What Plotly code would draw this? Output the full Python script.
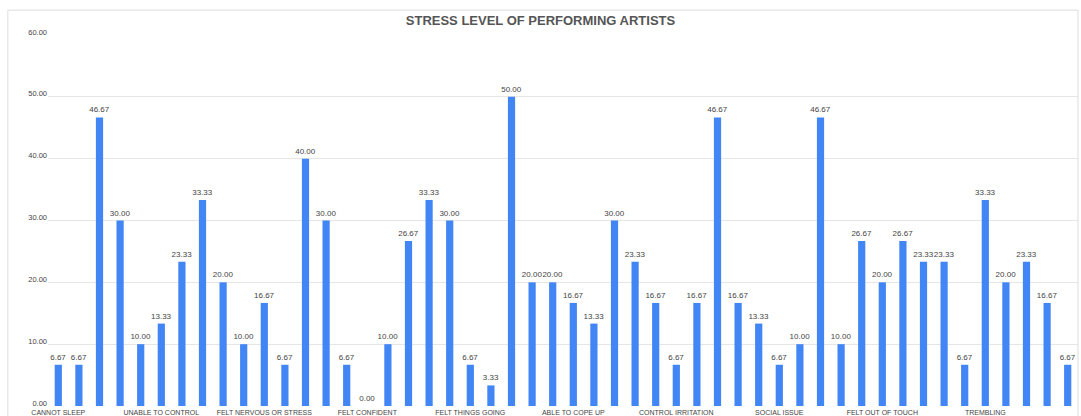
import plotly.graph_objects as go

values = [6.67, 6.67, 46.67, 30.00, 10.00, 13.33, 23.33, 33.33, 20.00, 10.00,
          16.67, 6.67, 40.00, 30.00, 6.67, 0.00, 10.00, 26.67, 33.33, 30.00,
          6.67, 3.33, 50.00, 20.00, 20.00, 16.67, 13.33, 30.00, 23.33, 16.67,
          6.67, 16.67, 46.67, 16.67, 13.33, 6.67, 10.00, 46.67, 10.00, 26.67,
          20.00, 26.67, 23.33, 23.33, 6.67, 33.33, 20.00, 23.33, 16.67, 6.67]
positions = list(range(1, len(values) + 1))
tick_labels = ["CANNOT SLEEP", "UNABLE TO CONTROL", "FELT NERVOUS OR STRESS",
               "FELT CONFIDENT", "FELT THINGS GOING", "ABLE TO COPE UP",
               "CONTROL IRRITATION", "SOCIAL ISSUE", "FELT OUT OF TOUCH",
               "TREMBLING"]
tick_positions = positions[::5]
y_ticks = [0, 10, 20, 30, 40, 50, 60]

fig = go.Figure()
fig.add_trace(go.Bar(
    x=positions, y=values,
    marker=dict(color="#4285F4", line=dict(width=0)),
    text=[f"{v:.2f}" for v in values],
    textposition="outside",
    constraintext="none",
    textfont=dict(size=8, color="#444444", family="Liberation Sans"),
    cliponaxis=False,
))
fig.update_layout(
    width=1081, height=416,
    margin=dict(l=48, r=3, t=35, b=10, autoexpand=False),
    paper_bgcolor="white", plot_bgcolor="white",
    bargap=0.65,
    showlegend=False,
    font=dict(family="Liberation Sans", size=8, color="#444444"),
    title=dict(text="<b>STRESS LEVEL OF PERFORMING ARTISTS</b>",
               x=0.5, xanchor="center", y=0.95, yanchor="middle",
               font=dict(size=13, color="#555555", family="Liberation Sans")),
    xaxis=dict(range=[0.5, 50.5], tickmode="array", tickvals=tick_positions,
               ticktext=tick_labels, showgrid=False, zeroline=False,
               showline=False, ticks="", ticklabelstandoff=1, automargin=False,
               tickfont=dict(size=7, color="#444444")),
    yaxis=dict(range=[0, 60], tickmode="array", tickvals=y_ticks,
               ticktext=[f"{v:.2f}" for v in y_ticks], automargin=False,
               ticklabelshift=-3,
               showgrid=True, gridcolor="#e6e6e6", gridwidth=1,
               zeroline=False, showline=False, ticks="",
               tickfont=dict(size=7.5, color="#444444")),
    shapes=[dict(type="rect", xref="paper", yref="paper",
                 x0=-0.039, x1=1.0, y0=-0.05, y1=1.067,
                 line=dict(color="#dddddd", width=1))],
)
fig.write_html("out.html")
